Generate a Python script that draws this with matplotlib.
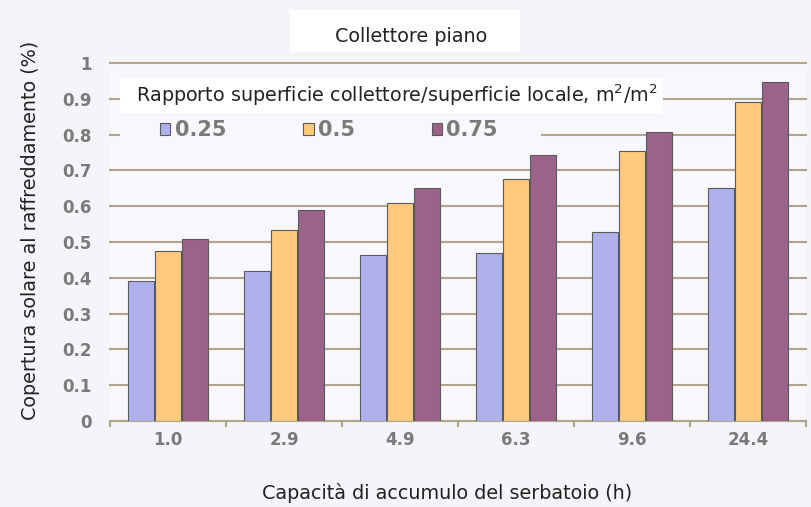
import numpy as np
import matplotlib
matplotlib.use('Agg')
import matplotlib.pyplot as plt
from matplotlib.patches import Rectangle

# dati
categorie = ['1.0', '2.9', '4.9', '6.3', '9.6', '24.4']
serie_025 = [0.39, 0.42, 0.465, 0.47, 0.528, 0.65]
serie_05 = [0.476, 0.534, 0.61, 0.676, 0.755, 0.892]
serie_075 = [0.508, 0.588, 0.65, 0.742, 0.808, 0.948]
nomi_serie = ['0.25', '0.5', '0.75']
y_ticks = [0, 0.1, 0.2, 0.3, 0.4, 0.5, 0.6, 0.7, 0.8, 0.9, 1.0]
y_tick_labels = ['0', '0.1', '0.2', '0.3', '0.4', '0.5', '0.6', '0.7', '0.8', '0.9', '1']

colori = ['#b0b0ef', '#ffca7c', '#9b6389']
bordo = '#5a5a5a'
griglia = '#aea78e'
grigio_testo = '#7a7a7a'
sfondo = '#f4f4f9'
sfondo_ax = '#f8f8fc'
W, H = 811, 507

plt.rcParams['font.family'] = ['DejaVu Sans']

fig = plt.figure(figsize=(W / 100, H / 100), dpi=100)
fig.patch.set_facecolor(sfondo)
ax = fig.add_axes([110 / W, 1 - 421 / H, 696 / W, 358 / H])
ax.set_facecolor(sfondo_ax)

x = np.arange(len(categorie))
larg = 0.225
passo = 0.229
barre = []
for i, valori in enumerate([serie_025, serie_05, serie_075]):
    b = ax.bar(x + (i - 1) * passo, valori, width=larg, color=colori[i],
               edgecolor=bordo, linewidth=0.8, label=nomi_serie[i], zorder=3)
    barre.append(b)

ax.set_xlim(-0.5, len(categorie) - 0.5)
ax.set_ylim(0, 1.0)
ax.set_yticks(y_ticks)
ax.set_yticklabels(y_tick_labels)
ax.set_xticks(x)
ax.set_xticklabels(categorie)
ax.set_xticks(np.arange(len(categorie) + 1) - 0.5, minor=True)

ax.yaxis.grid(True, color=griglia, linewidth=1.5, zorder=1)
for linea in ax.get_ygridlines():
    linea.set_clip_on(False)
ax.set_axisbelow(True)

for lato in ['top', 'right', 'left']:
    ax.spines[lato].set_visible(False)
ax.spines['bottom'].set_color(griglia)
ax.spines['bottom'].set_linewidth(1.5)

ax.tick_params(axis='y', length=0, pad=13, labelsize=12, labelcolor=grigio_testo)
ax.tick_params(axis='x', which='major', length=0, pad=7, labelsize=12, labelcolor=grigio_testo)
ax.tick_params(axis='x', which='minor', length=4.5, width=1.5, color=griglia, direction='out')
for lbl in ax.get_xticklabels() + ax.get_yticklabels():
    lbl.set_fontweight('bold')

# riquadri dietro titolo e legenda
fig.patches.append(Rectangle((290 / W, 1 - 52 / H), 230 / W, 42 / H,
                             transform=fig.transFigure, facecolor='white',
                             edgecolor='none', zorder=1))
fig.patches.append(Rectangle((120 / W, 1 - 113 / H), 543 / W, 35 / H,
                             transform=fig.transFigure, facecolor='white',
                             edgecolor='none', zorder=1))
fig.patches.append(Rectangle((120 / W, 1 - 150 / H), 421 / W, 37 / H,
                             transform=fig.transFigure, facecolor=sfondo_ax,
                             edgecolor='none', zorder=1))

fig.text(411 / W, 1 - 37 / H, 'Collettore piano', ha='center', va='center',
         fontsize=13.8, color='#222222', zorder=5)
fig.text(397 / W, 1 - 95 / H, 'Rapporto superficie collettore/superficie locale, m$^2$/m$^2$',
         ha='center', va='center', fontsize=13.8, color='#222222', zorder=5)
fig.text(31 / W, 1 - 230 / H, 'Copertura solare al raffreddamento (%)', rotation=90,
         ha='center', va='center', fontsize=13.8, color='#222222')
fig.text(447 / W, 1 - 493 / H, 'Capacità di accumulo del serbatoio (h)',
         ha='center', va='center', fontsize=13.8, color='#222222')

leg = fig.legend(handles=barre, labels=nomi_serie, loc='center left',
                 bbox_to_anchor=(160 / W, 1 - 130 / H), ncol=3, frameon=False,
                 fontsize=15, handlelength=0.5, handleheight=0.5,
                 handletextpad=0.2, columnspacing=3.7, borderpad=0, borderaxespad=0)
leg.set_zorder(6)
for t in leg.get_texts():
    t.set_fontweight('bold')
    t.set_color(grigio_testo)

fig.savefig('out.png', dpi=100, facecolor=fig.get_facecolor())
